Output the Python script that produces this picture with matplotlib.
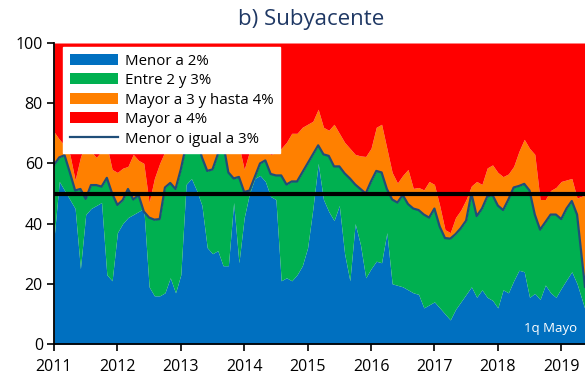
import numpy as np
import matplotlib
matplotlib.use("Agg")
import matplotlib.pyplot as plt
from matplotlib.patches import Patch
from matplotlib.lines import Line2D

plt.rcParams['font.family'] = ['Open Sans', 'DejaVu Sans']

# Share of items (%) by inflation range, Jan 2011 .. 1st fortnight of May 2019
years = [2011, 2012, 2013, 2014, 2015, 2016, 2017, 2018, 2019]
n_months = 100  # Jan 2011 .. Apr 2019, then May 1q
last_point = 2019 + 4.5 / 12

# cumulative level: items below 2%
menor_2 = [35, 54, 51, 48, 45, 25, 43, 45, 46, 47,
           23, 21, 37, 40, 42, 43, 44, 45, 19, 16,
           16, 17, 22, 17, 23, 53, 55, 51, 46, 32,
           30, 31, 26, 26, 47, 27, 42, 50, 55, 56,
           54, 49, 48, 21, 22, 21, 23, 26, 32, 45,
           60, 48, 44, 41, 46, 30, 21, 40, 33, 22,
           25, 27.5, 27, 37, 20, 19.5, 19, 18, 17, 16.5,
           12, 13, 14, 12, 10, 8, 11.5, 14, 16.5, 19,
           15.5, 18, 15.5, 14.5, 12, 18, 17, 21, 24.5, 24,
           15.5, 16.8, 14.8, 19.6, 17, 15.5, 18.5, 21.3, 24, 20,
           11.5]

# cumulative level: items at or below 3%
menor_igual_3 = [59.5, 62, 62.7, 57, 51, 51.5, 48.2, 52.8, 52.8, 52.3,
                 55.2, 50, 46.2, 47.8, 51.5, 48, 49.5, 44, 42, 41.3,
                 41.5, 52, 53.5, 51.5, 58, 66, 70, 68, 62, 57.5,
                 58, 63, 67, 57, 55, 55.5, 50.5, 51, 55.5, 60,
                 61, 56.5, 56, 56, 53, 54, 54, 57, 60, 63,
                 66, 63, 62.5, 59, 59, 56.7, 55, 53, 51.5, 50,
                 54, 57.5, 57, 51.5, 48, 47, 49.5, 46.5, 45, 44.5,
                 43, 42, 45, 39, 35.2, 35, 36.5, 38.5, 41, 50,
                 42.5, 45, 49, 49.5, 46, 44.5, 48, 52, 52.5, 53.2,
                 51, 43, 38, 40.5, 43, 43, 41.5, 45, 47.5, 43,
                 19]

# cumulative level: items at or below 4%
hasta_4 = [70.5, 68, 66, 63, 54.5, 62, 67, 64, 62, 64,
           66, 58, 57, 58.4, 59, 63, 61, 60, 47, 55,
           60, 64, 67, 67, 70, 72, 75, 74, 72, 70,
           70, 72, 75, 70, 68, 66, 58, 64, 66, 68,
           66, 63, 63.5, 65, 67, 70, 70, 72, 73, 74,
           78, 72, 71, 73, 70, 67, 65, 63, 62.5, 62.3,
           65, 72, 73, 65, 57, 53.5, 56, 58, 51.7, 52,
           51.2, 54, 53, 46, 38, 37, 42, 44.5, 48, 52.5,
           54, 53, 58.5, 59.5, 57, 55.6, 56.5, 59, 64, 68,
           65, 63, 48, 48, 51, 52, 54, 54.5, 55, 48.5,
           49.5]

umbral = 50

x = np.append(2011 + np.arange(n_months) / 12, last_point)
b = np.array(menor_2)
l3 = np.array(menor_igual_3)
l4 = np.array(hasta_4)

c_blue = '#0070C0'
c_green = '#00B050'
c_orange = '#FF8000'
c_red = '#FF0000'
c_line = '#1F4E79'

fig = plt.figure(figsize=(5.85, 3.75), dpi=100)
ax = fig.add_axes([54 / 585, 1 - 344 / 375, 531 / 585, 301 / 375])

ax.fill_between(x, 0, b, color=c_blue, lw=0)
ax.fill_between(x, b, l3, color=c_green, lw=0)
ax.fill_between(x, l3, l4, color=c_orange, lw=0)
ax.fill_between(x, l4, 100, color=c_red, lw=0)
ax.plot(x, l3, color=c_line, lw=1.6)
ax.axhline(umbral, color='black', lw=3)

ax.set_xlim(2011, last_point)
ax.set_ylim(0, 100)
ax.set_xticks(years)
ax.set_xticklabels([str(y) for y in years])
ax.set_yticks(range(0, 101, 20))
ax.tick_params(axis='both', labelsize=11.5, direction='out', length=5, width=1.2,
               colors='black')
ax.tick_params(axis='x', pad=6)
ax.tick_params(axis='y', pad=3)
for s in ['top', 'right']:
    ax.spines[s].set_visible(False)
for s in ['left', 'bottom']:
    ax.spines[s].set_linewidth(1.3)

fig.text(311 / 585, 1 - 20 / 375, 'b) Subyacente', ha='center', va='center',
         fontsize=16, color='#1F3864')

ax.text(0.985, 0.03, '1q Mayo', transform=ax.transAxes, ha='right', va='bottom',
        color='white', fontsize=9.5)

handles = [Patch(facecolor=c_blue, label='Menor a 2%'),
           Patch(facecolor=c_green, label='Entre 2 y 3%'),
           Patch(facecolor=c_orange, label='Mayor a 3 y hasta 4%'),
           Patch(facecolor=c_red, label='Mayor a 4%'),
           Line2D([], [], color=c_line, lw=1.6, label='Menor o igual a 3%')]
leg = ax.legend(handles=handles, loc='upper left', bbox_to_anchor=(0.017, 0.987),
                fontsize=10.8, frameon=True, fancybox=False, framealpha=1,
                edgecolor='white', handlelength=3.2, handleheight=0.75,
                labelspacing=0.3, borderpad=0.45, handletextpad=0.45,
                borderaxespad=0)

fig.savefig('out.png', dpi=100)
